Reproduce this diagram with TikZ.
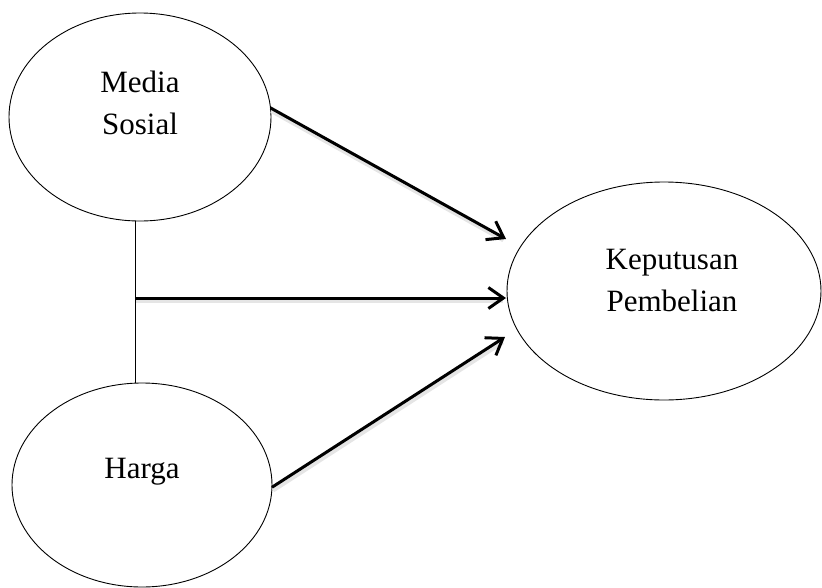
\documentclass[tikz,border=0pt]{standalone}
\usepackage{fontspec}
\setmainfont{Liberation Serif}
\usetikzlibrary{arrows.meta,shapes.geometric}
\begin{document}
\begin{tikzpicture}[x=1pt,y=-1pt,
  var/.style={draw=black,line width=0.9pt,ellipse,inner sep=0pt,outer sep=0pt},
  lbl/.style={font=\fontsize{31}{42}\selectfont,align=center},
  arr/.style={line width=3pt,-{Straight Barb[length=15pt,width=21pt,line width=3pt]}},
  shade/.style={line width=4.5pt,black!10,shorten >=4pt}]
\useasboundingbox (0,0) rectangle (822,587);
\node[var,minimum width=262pt,minimum height=208pt] (ms) at (140,117) {};
\node[var,minimum width=260pt,minimum height=204pt] (hg) at (142,485) {};
\node[var,minimum width=314pt,minimum height=218pt] (kp) at (664,291) {};
\node[lbl] (tms) at (140,103) {Media\\Sosial};
\node[lbl] (thg) at (142,472) {Harga};
\node[lbl] (tkp) at (672,280) {Keputusan\\Pembelian};
\coordinate (j) at (135,298);
\coordinate (t1) at (506,239);
\coordinate (t2) at (506,298);
\coordinate (t3) at (505,337);
% soft shadows
\draw[shade] ([shift={(1,3)}]ms.4) -- ([shift={(1,3)}]t1);
\draw[shade] ([shift={(1,3)}]j) -- ([shift={(1,3)}]t2);
\draw[shade] ([shift={(1,3)}]hg.-1) -- ([shift={(1,3)}]t3);
% connectors
\draw[line width=0.9pt] (ms.south -| j) -- (hg.north -| j);
\draw[arr] (ms.4) -- (t1);
\draw[arr] (j) -- (t2);
\draw[arr] (hg.-1) -- (t3);
\end{tikzpicture}
\end{document}
